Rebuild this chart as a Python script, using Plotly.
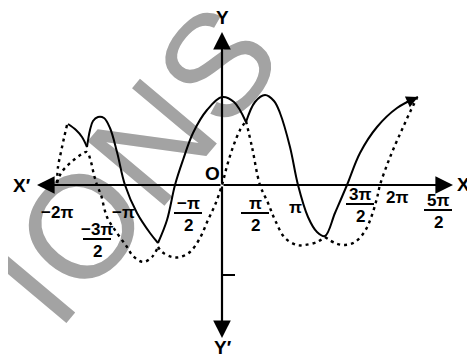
import plotly.graph_objects as go

# ---- data (x: horizontal position, y: height above X'X) ----
# solid curve, split at its cusps
solid_x1 = [-154, -146, -140, -135]
solid_y1 = [61, 55, 48, 38]
solid_x2 = [-135, -132, -129, -124, -118, -112, -105, -97, -85, -72, -64]
solid_y2 = [38, 55, 64, 68, 67, 57, 33, 0, -28, -48, -58]
solid_x3 = [-64, -55, -47, -39, -29, -15, 0, 12, 24]
solid_y3 = [-58, -35, 0, 25, 52, 75, 88, 83, 63]
solid_x4 = [24, 33, 43, 52, 58, 68, 76, 86, 95, 103, 113, 125, 138, 155, 175, 196]
solid_y4 = [63, 83, 90, 84, 72, 38, 0, -32, -47, -51, -28, 0, 32, 58, 77, 88]

# dotted curve, split at its cusps
dot_x1 = [-155, -158, -161, -164, -165]
dot_y1 = [60, 47, 33, 18, 2]
dot_x2 = [-165, -161, -154, -147, -140, -135, -131, -128, -125, -121, -115, -105, -95, -89, -79, -70, -64]
dot_y2 = [2, 12, 20, 26, 31, 33, 23, 10, 0, -10, -32, -48, -62, -71, -77, -72, -62]
dot_x3 = [-64, -60, -50, -42, -32, -22, -14, -7, 0, 5, 11, 18, 24]
dot_y3 = [-62, -67, -72, -72, -67, -53, -35, -20, 0, 19, 38, 55, 64]
dot_x4 = [24, 30, 38, 46, 53, 63, 75, 83, 95, 103]
dot_y4 = [64, 38, 0, -18, -35, -53, -60, -60, -57, -52]
dot_x5 = [103, 113, 123, 133, 143, 150, 155, 158, 165, 171, 178, 183, 189, 195]
dot_y5 = [-52, -58, -60, -57, -46, -30, -13, 0, 20, 35, 51, 62, 75, 87]

# tick labels on X'X
tick_x = [-165, -125, -99, -34, 33, 73, 138, 175, 216]
tick_num = ["−2π", "−3π", "−π", "−π", "π", "π", "3π", "2π", "5π"]
tick_den = [None, "2", None, "2", "2", None, "2", None, "2"]
# vertical placement of each label (below the axis)
tick_ly = [-27, -47, -27, -21, -21, -22, -12, -12, -18]


def join(*segs):
    out = []
    for i, s in enumerate(segs):
        if i:
            out.append(None)
        out.extend(s)
    return out


fig = go.Figure()
fig.add_trace(go.Scatter(
    x=join(dot_x1, dot_x2, dot_x3, dot_x4, dot_x5),
    y=join(dot_y1, dot_y2, dot_y3, dot_y4, dot_y5),
    mode="lines", line=dict(color="black", width=2.4, dash="3px,4px", shape="spline"),
    connectgaps=False, hoverinfo="skip", showlegend=False))
fig.add_trace(go.Scatter(
    x=join(solid_x1, solid_x2, solid_x3, solid_x4),
    y=join(solid_y1, solid_y2, solid_y3, solid_y4),
    mode="lines", line=dict(color="black", width=2, shape="spline"),
    connectgaps=False, hoverinfo="skip", showlegend=False))

ann = []
FONT = "Liberation Sans, Arial, sans-serif"


def arrow(x, y, ax, ay, size=1.6, width=2.2):
    ann.append(dict(x=x, y=y, ax=ax, ay=ay, xref="x", yref="y", axref="x", ayref="y",
                    showarrow=True, arrowhead=2, arrowsize=size, arrowwidth=width,
                    arrowcolor="black", text="", standoff=0, startstandoff=0))


# axes with arrows
arrow(231, 0, 0, 0)
arrow(-185, 0, 0, 0)
arrow(0, 153, 0, 0)
arrow(0, -153, 0, 0)
# arrow at the end of the solid curve
arrow(solid_x4[-1], solid_y4[-1], solid_x4[-2] + 8, solid_y4[-2] + 5, size=1.3, width=1.8)

shapes = []
# small tick marks
shapes.append(dict(type="line", x0=tick_x[-1] - 1, x1=tick_x[-1] - 1, y0=-7, y1=7,
                   line=dict(color="black", width=2)))
shapes.append(dict(type="line", x0=0, x1=13, y0=-90, y1=-90, line=dict(color="black", width=2)))

LBL = dict(family=FONT, size=17, color="black", weight="bold")
# tick labels
for x, num, den, ly in zip(tick_x, tick_num, tick_den, tick_ly):
    if den is None:
        ann.append(dict(x=x, y=ly, text=num, showarrow=False, xref="x", yref="y", font=LBL))
    else:
        ann.append(dict(x=x, y=ly + 3, text=num, showarrow=False, xref="x", yref="y", font=LBL))
        shapes.append(dict(type="line", x0=x - 14, x1=x + 14, y0=ly - 7, y1=ly - 7,
                           line=dict(color="black", width=2)))
        ann.append(dict(x=x, y=ly - 19, text=den, showarrow=False, xref="x", yref="y", font=LBL))

# axis names
for txt, x, y in [("X′", -200, 0), ("X", 241, 1), ("Y", 0, 168), ("Y′", 1, -162), ("O", -10, 12)]:
    ann.append(dict(x=x, y=y, text=txt, showarrow=False, xref="x", yref="y",
                    font=dict(family=FONT, size=19, color="black", weight="bold")))

# watermark, under the curves
shapes.append(dict(type="rect", x0=-109, x1=-89, y0=20, y1=40, layer="below",
                   line=dict(width=0), fillcolor="rgba(0,0,0,0)",
                   label=dict(text="IONS", textangle=-50, textposition="middle center",
                              font=dict(family=FONT, size=146, color="#a3a3a3"))))

# the page has an 8px body margin: the plot area is 467x350 at 1 unit per pixel
fig.update_layout(
    width=467, height=350, margin=dict(l=0, r=0, t=0, b=0),
    paper_bgcolor="white", plot_bgcolor="white",
    xaxis=dict(range=[-214, 253], visible=False, fixedrange=True),
    yaxis=dict(range=[-173, 177], visible=False, fixedrange=True),
    annotations=ann, shapes=shapes, showlegend=False,
)
fig.write_html("out.html")
